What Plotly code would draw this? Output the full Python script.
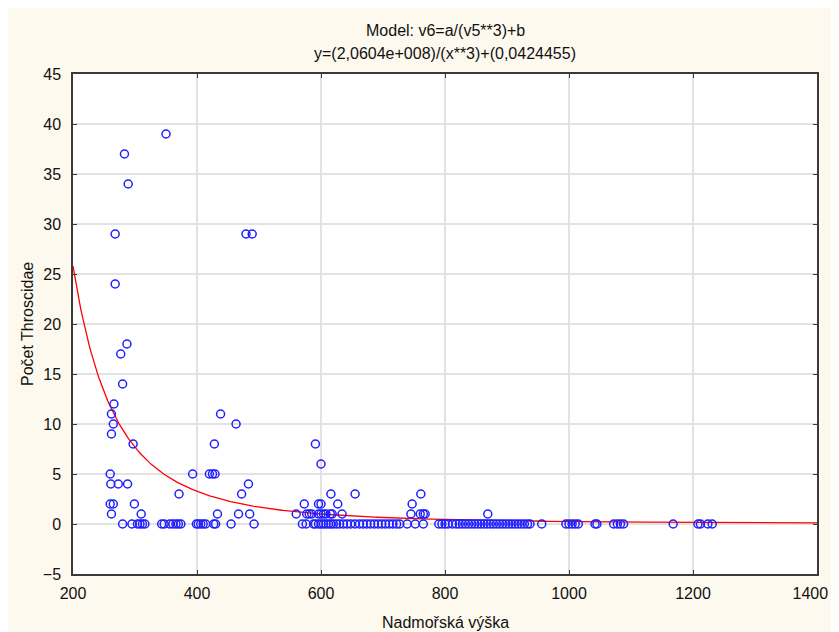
import numpy as np
import plotly.graph_objects as go

# ---- data ----
elev_39 = [350]
elev_37 = [283]
elev_34 = [289]
elev_29 = [268, 479, 489]
elev_24 = [268]
elev_18 = [287]
elev_17 = [277]
elev_14 = [280]
elev_12 = [266]
elev_11 = [262, 438]
elev_10 = [265, 463]
elev_9 = [262]
elev_8 = [297, 428, 591]
elev_6 = [600]
elev_5 = [260, 393, 420, 425, 429]
elev_4 = [261, 273, 288, 483]
elev_3 = [371, 472, 616, 655, 761]
elev_2 = [260, 265, 299, 573, 596, 600, 627, 747]
elev_1 = [262, 310, 433, 467, 485, 560, 577, 581, 585, 596, 600, 604, 608,
          615, 618, 634, 745, 760, 765, 768, 869]
elev_0 = [280, 295, 304, 308, 312, 316, 343, 347, 356, 361, 366, 370, 374,
          399, 402, 406, 410, 414, 427, 430, 455, 492, 570, 576, 588, 591,
          596, 600, 604, 608, 612, 616, 620, 625, 630, 636, 642, 648, 655,
          662, 668, 674, 680, 686, 692, 698, 704, 710, 716, 722, 727, 739,
          752, 765, 790, 795, 800, 805, 812, 818, 823, 828, 833, 838, 843,
          848, 853, 858, 863, 868, 873, 878, 883, 888, 893, 898, 903, 908,
          913, 918, 923, 928, 933, 937, 956, 995, 1000, 1005, 1010, 1015,
          1042, 1045, 1072, 1078, 1083, 1088, 1168, 1208, 1212, 1224, 1231]

groups = {39: elev_39, 37: elev_37, 34: elev_34, 29: elev_29, 24: elev_24,
          18: elev_18, 17: elev_17, 14: elev_14, 12: elev_12, 11: elev_11,
          10: elev_10, 9: elev_9, 8: elev_8, 6: elev_6, 5: elev_5, 4: elev_4,
          3: elev_3, 2: elev_2, 1: elev_1, 0: elev_0}
elevation = [x for k, xs in groups.items() for x in xs]
count = [k for k, xs in groups.items() for _ in xs]

# fitted model parameters (from the chart title)
a_param = 2.0604e8
b_param = 0.0424455

x_ticks = [200, 400, 600, 800, 1000, 1200, 1400]
x_tick_text = ["200", "400", "600", "800", "1000", "1200",
               "1400\u00a0\u00a0\u00a0"]
y_ticks = [-5, 0, 5, 10, 15, 20, 25, 30, 35, 40, 45]

title_line1 = "Model: v6=a/(v5**3)+b"
title_line2 = "y=(2,0604e+008)/(x**3)+(0,0424455)"
x_title = "Nadmořská výška"
y_title = "Počet Throscidae"

# ---- figure ----
x_fit = np.linspace(200, 1400, 600)
y_fit = a_param / x_fit ** 3 + b_param

FONT = "Liberation Sans, Arial, sans-serif"
CREAM = "#FEF9EE"
TXT = "#111111"

fig = go.Figure()
fig.add_trace(go.Scatter(
    x=x_fit, y=y_fit, mode="lines",
    line=dict(color="#FF0000", width=1.3), hoverinfo="skip"))
fig.add_trace(go.Scatter(
    x=elevation, y=count, mode="markers",
    marker=dict(symbol="circle-open", size=8, color="#1F1FFF",
                line=dict(width=1.5, color="#1F1FFF"))))

axis_common = dict(
    showgrid=True, gridcolor="#E2E2E2", gridwidth=1.5,
    zeroline=False, showline=True, linecolor="#3A3A3A", linewidth=1.5,
    mirror="ticks", ticks="inside", ticklen=4, tickcolor="#3A3A3A",
    tickfont=dict(family=FONT, size=16, color=TXT), automargin=False,
    ticklabeloverflow="allow",
)

# plot area in the page: x 73..817, y 74..574 (page has an 8px body margin)
PT = 574  # bottom of plot area in page pixels
PH = 500  # plot area height

fig.update_layout(
    width=831, height=624,
    margin=dict(l=65, r=22, t=66, b=58),
    paper_bgcolor=CREAM, plot_bgcolor="white",
    showlegend=False,
    xaxis=dict(range=[200, 1400], tickvals=x_ticks, ticktext=x_tick_text,
               ticklabelstandoff=4, **axis_common),
    yaxis=dict(range=[-5, 45], tickvals=y_ticks, ticklabelstandoff=7,
               **axis_common),
    annotations=[
        dict(text=title_line1, xref="paper", yref="paper", x=0.5,
             y=(PT - 31) / PH, xanchor="center", yanchor="middle",
             showarrow=False, font=dict(family=FONT, size=16, color=TXT)),
        dict(text=title_line2, xref="paper", yref="paper", x=0.5,
             y=(PT - 54) / PH, xanchor="center", yanchor="middle",
             showarrow=False, font=dict(family=FONT, size=16, color=TXT)),
        dict(text=x_title, xref="paper", yref="paper", x=0.5,
             y=(PT - 622) / PH, xanchor="center", yanchor="middle",
             showarrow=False, font=dict(family=FONT, size=16, color=TXT)),
        dict(text=y_title, xref="paper", yref="paper", x=(27 - 73) / 744,
             y=0.5, xanchor="center", yanchor="middle", textangle=-90,
             showarrow=False, font=dict(family=FONT, size=16, color=TXT)),
    ],
)

fig.write_html(
    "out.html",
    post_script="document.documentElement.style.overflow='hidden';"
                "document.body.style.overflow='hidden';",
)
